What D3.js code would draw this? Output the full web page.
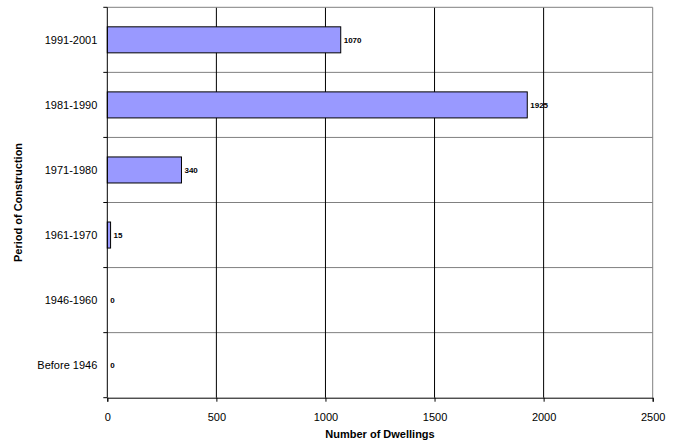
<!DOCTYPE html>
<html><head><meta charset="utf-8">
<script src="https://cdn.jsdelivr.net/npm/d3@7"></script>
<style>body{margin:0;background:#fff;font-family:Arial,"Liberation Sans",sans-serif}</style>
</head><body>
<svg id="c" width="681" height="445"></svg>
<script>
const categories = ["1991-2001","1981-1990","1971-1980","1961-1970","1946-1960","Before 1946"];
const values = [1070,1925,340,15,0,0];
const xTicks = [0,500,1000,1500,2000,2500];

const svg = d3.select("#c");
const m = {left:107.3, right:652.7, top:7.3, bottom:397.7};
const x = d3.scaleLinear().domain([0,2500]).range([m.left,m.right]);
const y = d3.scaleBand().domain(categories).range([m.top,m.bottom]).paddingInner(0.6).paddingOuter(0.3);
const yb = d3.scaleBand().domain(categories).range([m.top,m.bottom]);
const font = "Arial, 'Liberation Sans', sans-serif";

// horizontal gridlines (gray)
svg.append("g").selectAll("line").data(categories.slice(1)).join("line")
  .attr("x1",m.left).attr("x2",m.right)
  .attr("y1",d=>yb(d)).attr("y2",d=>yb(d))
  .attr("stroke","#808080").attr("stroke-width",1);
// vertical gridlines (black)
svg.append("g").selectAll("line").data(xTicks.slice(1,-1)).join("line")
  .attr("x1",d=>x(d)).attr("x2",d=>x(d))
  .attr("y1",m.top).attr("y2",m.bottom)
  .attr("stroke","#000").attr("stroke-width",1);
// border top/right gray
svg.append("path").attr("d",`M${m.left},${m.top}H${m.right}V${m.bottom}`)
  .attr("fill","none").attr("stroke","#808080").attr("stroke-width",1);

// bars
svg.append("g").selectAll("rect").data(categories).join("rect")
  .attr("x",x(0)).attr("y",d=>y(d))
  .attr("width",(d,i)=>x(values[i])-x(0)).attr("height",y.bandwidth())
  .attr("fill","#9999FF").attr("stroke","#000").attr("stroke-width",1)
  .attr("visibility",(d,i)=>values[i]>0?"visible":"hidden");

// value labels
svg.append("g").selectAll("text").data(categories).join("text")
  .attr("x",(d,i)=>x(values[i])+3).attr("y",d=>y(d)+y.bandwidth()/2+3)
  .attr("font-family",font).attr("font-size",8).attr("font-weight","bold")
  .text((d,i)=>values[i]);

// axes
const ax = svg.append("g").attr("transform",`translate(0,${m.bottom})`)
  .call(d3.axisBottom(x).tickValues(xTicks).tickFormat(d3.format("d")).tickSize(4).tickPadding(12));
ax.select(".domain").attr("stroke","#000");
ax.selectAll("text").attr("font-family",font).attr("font-size",11).attr("fill","#000");

const ay = svg.append("g").attr("transform",`translate(${m.left},0)`);
ay.append("line").attr("x1",0).attr("x2",0).attr("y1",m.top).attr("y2",m.bottom).attr("stroke","#000");
ay.selectAll("line.t").data(categories.concat(["_end"])).join("line").attr("class","t")
  .attr("x1",-4).attr("x2",0)
  .attr("y1",d=>d==="_end"?m.bottom:yb(d)).attr("y2",d=>d==="_end"?m.bottom:yb(d))
  .attr("stroke","#000");
ay.selectAll("text").data(categories).join("text")
  .attr("x",-10).attr("y",d=>yb(d)+yb.bandwidth()/2+4)
  .attr("text-anchor","end").attr("font-family",font).attr("font-size",11)
  .text(d=>d);

// titles
svg.append("text").attr("x",(m.left+m.right)/2).attr("y",438)
  .attr("text-anchor","middle").attr("font-family",font).attr("font-size",11).attr("font-weight","bold")
  .text("Number of Dwellings");
svg.append("text").attr("transform",`translate(22,${(m.top+m.bottom)/2}) rotate(-90)`)
  .attr("text-anchor","middle").attr("font-family",font).attr("font-size",11).attr("font-weight","bold")
  .text("Period of Construction");
</script>
</body></html>
